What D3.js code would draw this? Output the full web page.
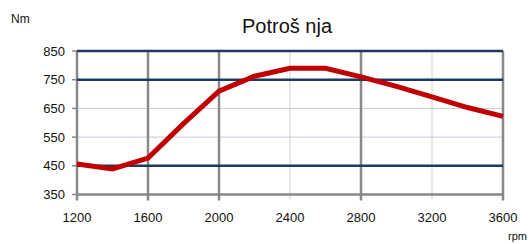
<!DOCTYPE html>
<html><head><meta charset="utf-8">
<script src="https://cdn.jsdelivr.net/npm/d3@7"></script>
<style>body{margin:0;background:#fff}svg{display:block}text{font-family:"Liberation Sans",Arial,sans-serif}</style>
</head><body><svg id="c" width="532" height="244"></svg>
<script>
const rpm = [1200,1400,1600,1800,2000,2200,2400,2600,2800,3000,3200,3400,3600];
const torque = [456,439,477,597,710,762,790,790,760,727,690,653,622];
const xTicks = [1200,1600,2000,2400,2800,3200,3600];
const yTicks = [350,450,550,650,750,850];
const majorX = [1200,1600,2000,2800,3600];
const majorY = [450,750,850];
const title = "Potroš nja";
const yUnit = "Nm", xUnit = "rpm";

const svg = d3.select("#c");
const x = d3.scaleLinear().domain([1200,3600]).range([77,503]);
const y = d3.scaleLinear().domain([350,850]).range([194.5,51]);

svg.append("g").selectAll("line").data(yTicks.filter(v=>!majorY.includes(v)&&v!==350)).join("line")
  .attr("x1",x(1200)).attr("x2",x(3600)).attr("y1",d=>y(d)).attr("y2",d=>y(d))
  .attr("stroke","#c4ccd8").attr("stroke-width",1);
svg.append("g").selectAll("line").data(xTicks.filter(v=>!majorX.includes(v))).join("line")
  .attr("x1",d=>x(d)).attr("x2",d=>x(d)).attr("y1",y(850)).attr("y2",y(350)+5)
  .attr("stroke","#d0d0d0").attr("stroke-width",1);
svg.append("g").selectAll("line").data(majorX).join("line")
  .attr("x1",d=>x(d)).attr("x2",d=>x(d)).attr("y1",y(850)).attr("y2",y(350)+6)
  .attr("stroke","#888").attr("stroke-width",2.5);
svg.append("line").attr("x1",x(1200)).attr("x2",x(3600)).attr("y1",y(350)).attr("y2",y(350))
  .attr("stroke","#888").attr("stroke-width",2.5);
svg.append("g").selectAll("line").data(majorY).join("line")
  .attr("x1",x(1200)).attr("x2",x(3600)).attr("y1",d=>y(d)).attr("y2",d=>y(d))
  .attr("stroke","#1f3a60").attr("stroke-width",2.5);
svg.append("g").selectAll("line").data(yTicks).join("line")
  .attr("x1",x(1200)-5).attr("x2",x(1200)).attr("y1",d=>y(d)).attr("y2",d=>y(d))
  .attr("stroke","#888").attr("stroke-width",1.5);
svg.append("g").selectAll("text").data(yTicks).join("text")
  .attr("x",65).attr("y",d=>y(d)+4.5).attr("text-anchor","end")
  .attr("font-size",13).attr("fill","#111").text(d=>d);
svg.append("g").selectAll("text").data(xTicks).join("text")
  .attr("x",d=>x(d)).attr("y",222).attr("text-anchor","middle")
  .attr("font-size",13).attr("fill","#111").text(d=>d);

svg.append("path").datum(rpm.map((r,i)=>[r,torque[i]]))
  .attr("d",d3.line().x(d=>x(d[0])).y(d=>y(d[1])))
  .attr("fill","none").attr("stroke","#c00000").attr("stroke-width",5).attr("stroke-linejoin","miter");

svg.append("text").attr("x",287).attr("y",33).attr("text-anchor","middle")
  .attr("font-size",20).attr("fill","#111").text(title);
svg.append("text").attr("x",11).attr("y",23).attr("font-size",12).attr("fill","#111").text(yUnit);
svg.append("text").attr("x",508).attr("y",240).attr("font-size",11).attr("fill","#111").text(xUnit);
</script></body></html>
